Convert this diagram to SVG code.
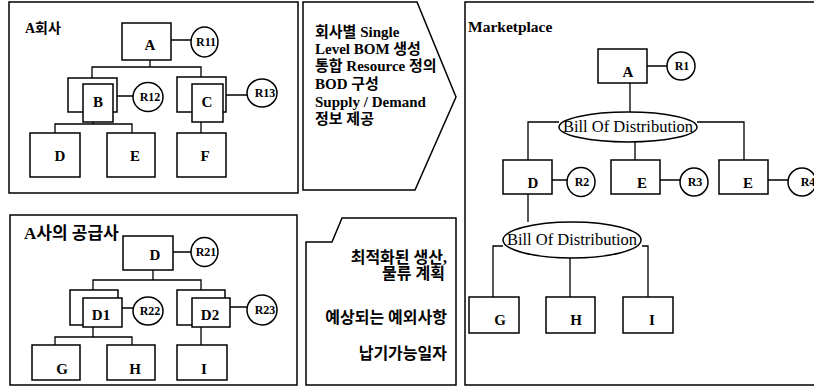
<svg xmlns="http://www.w3.org/2000/svg" width="814" height="387" viewBox="0 0 814 387">
<style>
.pan{fill:none;stroke:#000;stroke-width:1.5}
.bx{fill:#fff;stroke:#000;stroke-width:1.5}
.ln{fill:none;stroke:#000;stroke-width:1.3}
.lb{font-family:"Liberation Serif","Noto Sans CJK KR",serif;font-weight:bold;font-size:15px;text-anchor:middle;fill:#000}
.rl{font-family:"Liberation Serif","Noto Sans CJK KR",serif;font-weight:bold;font-size:12px;text-anchor:middle;fill:#000}
.tt{font-family:"Liberation Serif","Noto Sans CJK KR",serif;font-weight:bold;font-size:16px;fill:#000}
.pt{font-size:15px}
.bod{font-family:"Liberation Serif",serif;font-size:16.5px;text-anchor:middle;fill:#000}
</style>
<rect width="814" height="387" fill="#fff"/>
<!-- panels -->
<g id="panel-a">
<rect class="pan" x="9" y="2" width="289" height="191"/>
<text class="tt" x="25" y="33" style="font-size:14px">A회사</text>
</g>
<g id="panel-a-sup">
<rect class="pan" x="10" y="215" width="287" height="170"/>
<text class="tt" x="24" y="239" style="font-size:17px">A사의 공급사</text>
</g>
<g id="panel-process">
<path class="pan" d="M303 2 H417 L456 97 L415 190 H303 Z"/>
<text class="tt pt" x="315" y="37">회사별 Single</text>
<text class="tt pt" x="315" y="54">Level BOM 생성</text>
<text class="tt pt" x="315" y="71">통합 Resource 정의</text>
<text class="tt pt" x="315" y="89">BOD 구성</text>
<text class="tt pt" x="315" y="107">Supply / Demand</text>
<text class="tt pt" x="315" y="124">정보 제공</text>
</g>
<g id="panel-output">
<path class="pan" d="M306 242 H332 L342 218 H456 V385 H306 Z"/>
<text class="tt" x="447" y="263" text-anchor="end">최적화된 생산,</text>
<text class="tt" x="445" y="279" text-anchor="end">물류 계획</text>
<text class="tt" x="447" y="323" text-anchor="end">예상되는 예외사항</text>
<text class="tt" x="447" y="359" text-anchor="end">납기가능일자</text>
</g>
<g id="panel-market">
<path class="pan" d="M814 2 H465 V385 H814"/>
<text class="tt" x="468" y="32" style="font-size:15.5px">Marketplace</text>
</g>
<!-- connectors -->
<g id="connectors">
<path class="ln" d="M171 40 H191 M150 60 V67 M92 78 V67 H201 V84 M117 96 H133 M226 95 H247 M93 122 V124 M55 133 V124 H132 V133 M201 122 V133"/>
<path class="ln" d="M173 252 H191 M153 270 V280 M93 290 V280 H201 V298 M122 308 H133 M230 307 H247 M93 327 V337 M55 345 V337 H132 V345 M201 327 V345"/>
<path class="ln" d="M647 66 H667 M630 83 V112 M559 122 H528 V160 M697 122 H744 V160 M635 142 V160 M552 180 H567 M660 180 H680 M768 180 H788 M528 194 V222 M503 246 H493 V297 M642 246 H648 V297 M570 258 V297"/>
</g>
<!-- top-left nodes -->
<g id="n-a"><rect class="bx" x="122" y="23" width="49" height="37"/><text class="lb" x="150" y="50">A</text></g>
<g id="n-r11"><ellipse class="bx" cx="204.5" cy="42" rx="13.5" ry="15"/><text class="rl" x="206" y="46">R11</text></g>
<g id="n-b"><rect class="bx" x="68" y="78" width="49" height="34"/><rect class="bx" x="83" y="84" width="30" height="38"/><text class="lb" x="98" y="107">B</text></g>
<g id="n-r12"><ellipse class="bx" cx="148" cy="97" rx="15" ry="14.5"/><text class="rl" x="150" y="101">R12</text></g>
<g id="n-c"><rect class="bx" x="177" y="77" width="49" height="35"/><rect class="bx" x="192" y="84" width="31" height="38"/><text class="lb" x="207" y="107">C</text></g>
<g id="n-r13"><ellipse class="bx" cx="262" cy="93" rx="15" ry="14"/><text class="rl" x="265" y="97">R13</text></g>
<g id="n-d"><rect class="bx" x="30" y="133" width="50" height="44"/><text class="lb" x="60" y="161">D</text></g>
<g id="n-e"><rect class="bx" x="107" y="133" width="48" height="44"/><text class="lb" x="135" y="161">E</text></g>
<g id="n-f"><rect class="bx" x="177" y="133" width="49" height="44"/><text class="lb" x="205" y="161">F</text></g>
<!-- bottom-left nodes -->
<g id="n-sd"><rect class="bx" x="123" y="236" width="50" height="34"/><text class="lb" x="155" y="260">D</text></g>
<g id="n-r21"><ellipse class="bx" cx="204.5" cy="252" rx="13.5" ry="14.5"/><text class="rl" x="206" y="256">R21</text></g>
<g id="n-d1"><rect class="bx" x="70" y="290" width="48" height="35"/><rect class="bx" x="83" y="298" width="39" height="29"/><text class="lb" x="101" y="320">D1</text></g>
<g id="n-r22"><ellipse class="bx" cx="148" cy="311" rx="15" ry="14"/><text class="rl" x="150" y="315">R22</text></g>
<g id="n-d2"><rect class="bx" x="177" y="290" width="48" height="35"/><rect class="bx" x="192" y="298" width="38" height="29"/><text class="lb" x="210" y="320">D2</text></g>
<g id="n-r23"><ellipse class="bx" cx="262" cy="310" rx="15" ry="15"/><text class="rl" x="265" y="314">R23</text></g>
<g id="n-g"><rect class="bx" x="32" y="345" width="48" height="35"/><text class="lb" x="62" y="374">G</text></g>
<g id="n-h"><rect class="bx" x="107" y="345" width="48" height="35"/><text class="lb" x="135" y="374">H</text></g>
<g id="n-i"><rect class="bx" x="177" y="345" width="50" height="35"/><text class="lb" x="204" y="374">I</text></g>
<!-- marketplace nodes -->
<g id="m-a"><rect class="bx" x="598" y="49" width="49" height="34"/><text class="lb" x="628" y="77">A</text></g>
<g id="m-r1"><ellipse class="bx" cx="681" cy="66" rx="14" ry="14"/><text class="rl" x="682" y="70">R1</text></g>
<g id="m-bod1"><ellipse class="bx" cx="628" cy="127" rx="69" ry="15"/><text class="bod" x="628" y="132">Bill Of Distribution</text></g>
<g id="m-d"><rect class="bx" x="503" y="160" width="49" height="34"/><text class="lb" x="533" y="188">D</text></g>
<g id="m-r2"><ellipse class="bx" cx="581" cy="182" rx="14" ry="14.5"/><text class="rl" x="582" y="186">R2</text></g>
<g id="m-e1"><rect class="bx" x="611" y="160" width="49" height="34"/><text class="lb" x="642" y="188">E</text></g>
<g id="m-r3"><ellipse class="bx" cx="694" cy="182" rx="14" ry="14"/><text class="rl" x="695" y="186">R3</text></g>
<g id="m-e2"><rect class="bx" x="719" y="160" width="49" height="34"/><text class="lb" x="748" y="188">E</text></g>
<g id="m-r4"><ellipse class="bx" cx="802" cy="182" rx="14" ry="14"/><text class="rl" x="808" y="186">R4</text></g>
<g id="m-bod2"><ellipse class="bx" cx="572" cy="240" rx="69" ry="18"/><text class="bod" x="572" y="245">Bill Of Distribution</text></g>
<g id="m-g"><rect class="bx" x="469" y="297" width="50" height="36"/><text class="lb" x="500" y="325">G</text></g>
<g id="m-h"><rect class="bx" x="546" y="297" width="49" height="36"/><text class="lb" x="576" y="325">H</text></g>
<g id="m-i"><rect class="bx" x="623" y="297" width="50" height="36"/><text class="lb" x="652" y="325">I</text></g>
</svg>
